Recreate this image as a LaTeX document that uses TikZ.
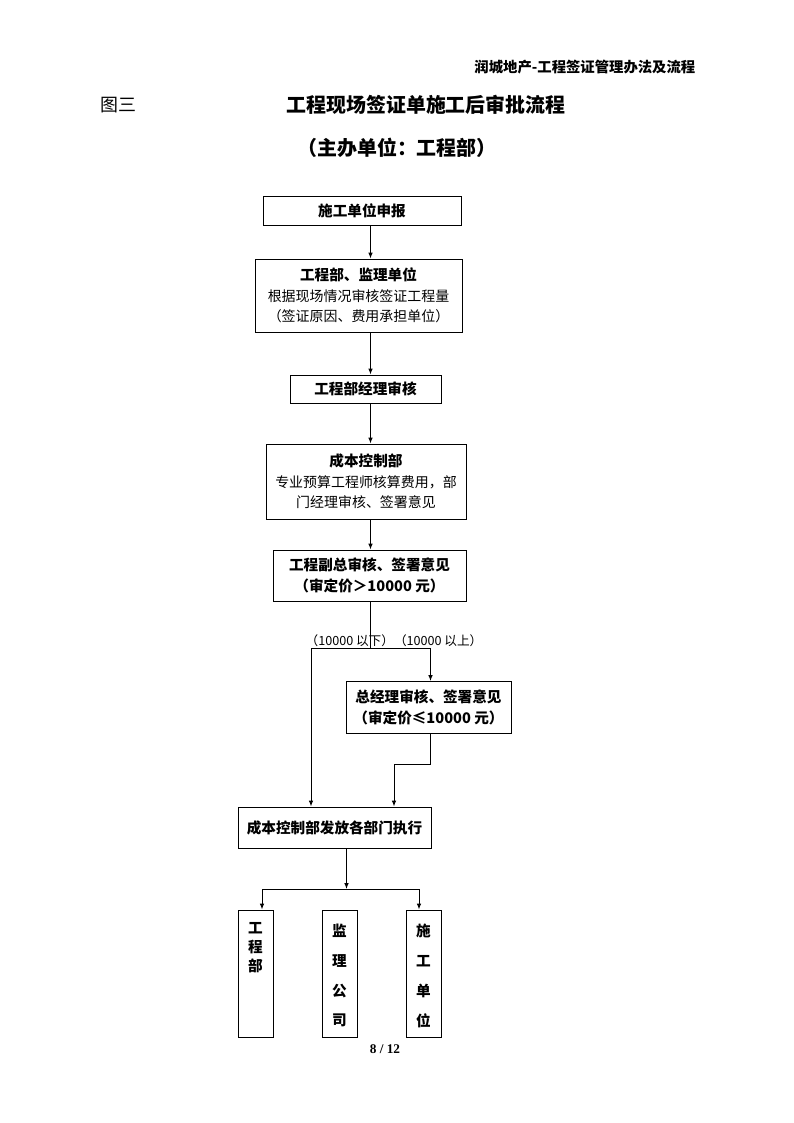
\documentclass[tikz,border=0pt]{standalone}
\usepackage{fontspec}
\setmainfont{Noto Sans CJK SC}
\newfontfamily\pagefont{Liberation Serif}
\usetikzlibrary{arrows.meta}

\newlength\pxu
\setlength\pxu{0.026448cm}

\tikzset{%
  box/.style={draw, line width=0.75pt, align=center, inner sep=1pt, font=\fontsize{10.5}{15.5}\selectfont},
  boldbox/.style={box, font=\bfseries\fontsize{11}{16}\selectfont},
  colbox/.style={draw, line width=0.75pt, minimum width=35\pxu, minimum height=127\pxu, inner sep=0pt},
  coltext/.style={align=center, inner sep=0pt, anchor=north, font=\bfseries\fontsize{11}{#1}\selectfont},
  line/.style={draw, line width=0.75pt, -{Latex[length=4.5pt,width=3.5pt]}},
  plain/.style={draw, line width=0.75pt},
}

\begin{document}
\begin{tikzpicture}[x=\pxu, y=-\pxu]
\useasboundingbox (0,0) rectangle (794,1123);

% headings
\node[anchor=east, font=\bfseries\fontsize{10.8}{14}\selectfont] (header) at (700,67) {润城地产-工程签证管理办法及流程};
\node[anchor=west, font=\fontsize{13.5}{16}\selectfont] (fig) at (96,105) {图三};
\node[font=\bfseries\fontsize{15}{20}\selectfont] (title) at (426,105) {工程现场签证单施工后审批流程};
\node[font=\bfseries\fontsize{15}{18}\selectfont] (subtitle) at (397,148) {（主办单位：工程部）};

% main chain
\node[boldbox, minimum width=198\pxu, minimum height=29\pxu] (shenbao) at (362,210.5) {施工单位申报};
\node[box, minimum width=207\pxu, minimum height=73\pxu] (jianli) at (358.5,295.5)
  {{\bfseries\fontsize{11}{16}\selectfont 工程部、监理单位}\\根据现场情况审核签证工程量\\（签证原因、费用承担单位）};
\node[boldbox, minimum width=151\pxu, minimum height=28\pxu] (jingli) at (365.5,389) {工程部经理审核};
\node[box, minimum width=200\pxu, minimum height=75\pxu] (chengben) at (366,481.5)
  {{\bfseries\fontsize{11}{16}\selectfont 成本控制部}\\专业预算工程师核算费用，部\\门经理审核、签署意见};
\node[boldbox, minimum width=193\pxu, minimum height=51\pxu] (fuzong) at (369.5,575.5)
  {工程副总审核、签署意见\\（审定价＞10000 元）};
\node[boldbox, minimum width=165\pxu, minimum height=52\pxu] (zongjingli) at (428.5,707.5)
  {总经理审核、签署意见\\（审定价≤10000 元）};
\node[boldbox, minimum width=193\pxu, minimum height=41\pxu] (zhixing) at (334.5,827.5) {成本控制部发放各部门执行};

% branch label
\node[font=\fontsize{9.5}{12}\selectfont] (fenzhi) at (394,641) {（10000 以下）（10000 以上）};

% departments
\node[colbox] (gcb) at (255.5,973.5) {};
\node[colbox] (jlgs) at (339.5,973.5) {};
\node[colbox] (sgdw) at (423.5,973.5) {};
\node[coltext=14.3] (gcbtext) at ([yshift=-13\pxu]gcb.north) {工\\程\\部};
\node[coltext=22.5] (jlgstext) at ([yshift=-14\pxu]jlgs.north) {监\\理\\公\\司};
\node[coltext=22.5] (sgdwtext) at ([yshift=-14\pxu]sgdw.north) {施\\工\\单\\位};

\node[font=\pagefont\bfseries\fontsize{10}{12}\selectfont] (page) at (385,1049) {8 / 12};

% connectors
\coordinate (trunk) at (370.5,0);
\coordinate (split) at (370.5,648);
\coordinate (splitL) at (311,648);
\coordinate (splitR) at (430.5,648);
\coordinate (jog) at (394,764);
\coordinate (fork) at (346.5,889);
\coordinate (forkL) at (262,889);
\coordinate (forkR) at (419,889);

\draw[line] (shenbao.south -| trunk) -- (jianli.north -| trunk);
\draw[line] (jianli.south -| trunk) -- (jingli.north -| trunk);
\draw[line] (jingli.south -| trunk) -- (chengben.north -| trunk);
\draw[line] (chengben.south -| trunk) -- (fuzong.north -| trunk);
\draw[plain] (fuzong.south -| trunk) -- (split);
\draw[plain] (splitL) -- (splitR);
\draw[line] (splitL) -- (zhixing.north -| splitL);
\draw[line] (splitR) -- (zongjingli.north -| splitR);
\draw[line] (zongjingli.south -| splitR) |- (jog) -- (zhixing.north -| jog);
\draw[line] (zhixing.south -| fork) -- (fork);
\draw[plain] (forkL) -- (forkR);
\draw[line] (forkL) -- (gcb.north -| forkL);
\draw[line] (forkR) -- (sgdw.north -| forkR);
\end{tikzpicture}
\end{document}
